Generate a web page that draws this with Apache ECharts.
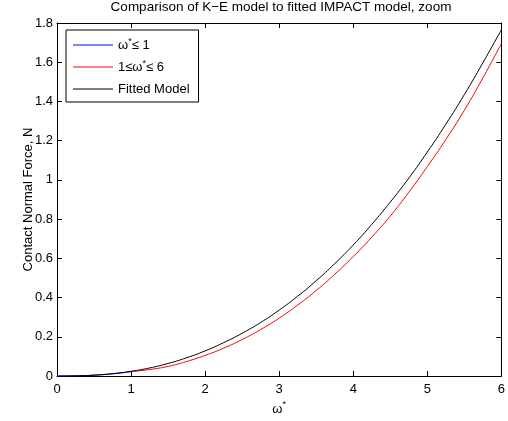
<!DOCTYPE html>
<html><head><meta charset="utf-8">
<script src="https://cdn.jsdelivr.net/npm/echarts@6/dist/echarts.min.js"></script>
<style>html,body{margin:0;padding:0;background:#fff}#c{width:508px;height:421px}</style>
</head><body><div id="c"></div>
<script>
const xTicks = [0,1,2,3,4,5,6];
const yTicks = [0,0.2,0.4,0.6,0.8,1,1.2,1.4,1.6,1.8];
const blueX = [0,0.25,0.5,0.75,1];
const blueY = [0,0.0008,0.004,0.011,0.022];
const redX = [1,1.25,1.5,1.75,2,2.25,2.5,2.75,3,3.25,3.5,3.75,4,4.25,4.5,4.75,5,5.25,5.5,5.75,6];
const redY = [0.022,0.033,0.049,0.074,0.105,0.142,0.186,0.237,0.295,0.362,0.436,0.519,0.609,0.708,0.816,0.937,1.068,1.206,1.355,1.52,1.695];
const blackX = [0,0.25,0.5,0.75,1,1.25,1.5,1.75,2,2.25,2.5,2.75,3,3.25,3.5,3.75,4,4.25,4.5,4.75,5,5.25,5.5,5.75,6];
const blackY = [0,0.0009,0.0045,0.012,0.024,0.041,0.064,0.093,0.128,0.17,0.218,0.273,0.336,0.407,0.486,0.573,0.668,0.773,0.887,1.009,1.142,1.284,1.435,1.597,1.766];

const zip = (xs, ys) => xs.map((x, i) => [x, ys[i]]);
const F = 'Liberation Sans, Arial, sans-serif';
const FS = 13;
const chart = echarts.init(document.getElementById('c'), null, {renderer: 'canvas'});
const rich = {
  a: {fontFamily: F, fontSize: FS, color: '#000', lineHeight: 16},
  s: {fontFamily: F, fontSize: 9, color: '#000', lineHeight: 9, verticalAlign: 'top'}
};
const names = ['ω*≤ 1', '1≤ω*≤ 6', 'Fitted Model'];
const fmt = {
  'ω*≤ 1': '{a|ω}{s|*}{a|≤ 1}',
  '1≤ω*≤ 6': '{a|1≤ω}{s|*}{a|≤ 6}',
  'Fitted Model': '{a|Fitted Model}'
};
const colors = ['#0000ff', '#ff0000', '#000000'];
const axisCommon = {
  type: 'value', min: 0,
  axisLine: {show: true, onZero: false, lineStyle: {color: '#000', width: 1}},
  axisTick: {show: true, inside: true, length: 5, lineStyle: {color: '#000'}},
  splitLine: {show: false}
};
chart.setOption({
  animation: false,
  backgroundColor: '#fff',
  title: {text: 'Comparison of K\u2212E model to fitted IMPACT model, zoom', left: 281, textAlign: 'center', top: 0, padding: 0,
    textStyle: {fontFamily: F, fontSize: 13.5, fontWeight: 'normal', color: '#000'}},
  grid: {left: 57, right: 3, top: 23, bottom: 45, containLabel: false},
  legend: {
    orient: 'vertical', left: 66, top: 30,
    data: names.map((n, i) => ({name: n, icon: 'rect',
      itemStyle: {color: colors[i], borderColor: colors[i], borderWidth: 0, opacity: 1}})),
    backgroundColor: '#fff', borderColor: '#000', borderWidth: 1, borderRadius: 0,
    padding: [7, 9, 5, 7], itemWidth: 40, itemHeight: 1, itemGap: 6,
    formatter: n => fmt[n], textStyle: {rich: rich, fontFamily: F, fontSize: FS, color: '#000', lineHeight: 16}
  },
  xAxis: [
    Object.assign({}, axisCommon, {max: 6, interval: 1, position: 'bottom',
      name: '{a|ω}{s|*}', nameLocation: 'middle', nameGap: 24, nameMoveOverlap: false,
      nameTextStyle: {rich: {a: {fontFamily: F, fontSize: FS, color: '#000'}, s: {fontFamily: F, fontSize: 9, color: '#000', padding: [0,0,9,0]}}},
      axisLabel: {fontFamily: F, fontSize: FS, color: '#000', margin: 7}}),
    Object.assign({}, axisCommon, {max: 6, interval: 1, position: 'top', axisLabel: {show: false}})
  ],
  yAxis: [
    Object.assign({}, axisCommon, {max: 1.8, interval: 0.2, position: 'left',
      name: 'Contact Normal Force, N', nameLocation: 'middle', nameGap: 22, nameRotate: 90, nameMoveOverlap: false,
      nameTextStyle: {fontFamily: F, fontSize: FS, color: '#000'},
      axisLabel: {fontFamily: F, fontSize: FS, color: '#000', margin: 4, formatter: v => String(+v.toFixed(1))}}),
    Object.assign({}, axisCommon, {max: 1.8, interval: 0.2, position: 'right', axisLabel: {show: false}})
  ],
  series: [
    {name: names[0], type: 'line', data: zip(blueX, blueY), smooth: true, symbol: 'none', lineStyle: {color: colors[0], width: 1}, itemStyle: {color: colors[0]}},
    {name: names[1], type: 'line', data: zip(redX, redY), smooth: true, symbol: 'none', lineStyle: {color: colors[1], width: 1}, itemStyle: {color: colors[1]}},
    {name: names[2], type: 'line', data: zip(blackX, blackY), smooth: true, symbol: 'none', lineStyle: {color: colors[2], width: 1}, itemStyle: {color: colors[2]}}
  ]
});
</script></body></html>
